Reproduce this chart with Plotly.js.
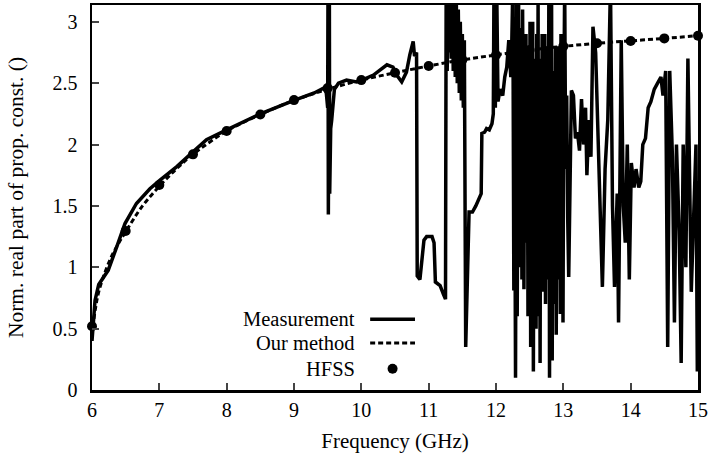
<!DOCTYPE html>
<html>
<head>
<meta charset="utf-8">
<script src="https://cdn.plot.ly/plotly-3.0.1.min.js"></script>
<style>html,body{margin:0;padding:0;background:#fff;}#chart{width:712px;height:457px;}</style>
</head>
<body>
<div id="chart"></div>
<script>
// ---- Data ----
// Measurement: smooth part + spike near 9.5 GHz
const measFreqA = [
  6.0, 6.045, 6.1, 6.17, 6.24, 6.37, 6.49, 6.66, 6.86, 7.01,
  7.26, 7.5, 7.7, 8.0, 8.2, 8.5, 9.0, 9.3, 9.44, 9.48,
  9.5, 9.505, 9.51, 9.515, 9.52, 9.525, 9.53, 9.535, 9.545, 9.56,
  9.6, 9.66, 9.78, 9.93, 10.01, 10.18, 10.38, 10.47, 10.52, 10.6,
  10.67, 10.72, 10.77, 10.79, 10.82
];
const measValA = [
  0.40, 0.73, 0.86, 0.92, 0.975, 1.17, 1.356, 1.52, 1.64, 1.71,
  1.82, 1.94, 2.04, 2.12, 2.17, 2.25, 2.36, 2.42, 2.46, 2.42,
  2.3, 3.3, 1.43, 3.3, 1.5, 3.3, 1.6, 2.0, 2.13, 2.2,
  2.45, 2.50, 2.525, 2.51, 2.525, 2.566, 2.65, 2.63, 2.57, 2.51,
  2.59, 2.73, 2.84, 2.72, 2.75
];
// Measurement: 10.8 - 12.2 GHz
const measFreqB = [
  10.83, 10.87, 10.93, 10.97, 11.05, 11.08, 11.1, 11.17, 11.22, 11.25,
  11.26, 11.275, 11.29, 11.305, 11.32, 11.335, 11.35, 11.365, 11.38, 11.395,
  11.41, 11.425, 11.44, 11.455, 11.47, 11.485, 11.5, 11.515, 11.53, 11.55,
  11.6, 11.65, 11.7, 11.75, 11.78, 11.79, 11.83, 11.86, 11.9, 11.94,
  11.96, 11.97, 11.99, 12.01, 12.03, 12.06, 12.1, 12.13, 12.16, 12.19
];
const measValB = [
  0.93, 0.90, 1.22, 1.25, 1.25, 1.2, 0.88, 0.85, 0.78, 0.74,
  3.3, 2.6, 3.3, 2.75, 3.3, 2.7, 3.3, 2.6, 3.3, 2.55,
  3.2, 2.5, 3.1, 2.42, 3.0, 2.36, 2.9, 2.3, 2.85, 0.35,
  1.45, 1.45, 1.5, 1.57, 1.6, 2.09, 2.1, 2.13, 2.12, 2.17,
  2.25, 3.3, 2.3, 3.3, 2.35, 2.45, 2.4, 2.55, 2.63, 2.85
];
// Measurement: 12.2 - 13.1 GHz (densest part)
const measFreqC = [
  12.22, 12.235, 12.25, 12.265, 12.275, 12.29, 12.305, 12.315, 12.325, 12.335,
  12.345, 12.355, 12.365, 12.375, 12.385, 12.395, 12.405, 12.415, 12.425, 12.435,
  12.445, 12.455, 12.465, 12.475, 12.485, 12.495, 12.505, 12.515, 12.525, 12.535,
  12.545, 12.555, 12.565, 12.575, 12.585, 12.595, 12.605, 12.615, 12.625, 12.635,
  12.645, 12.655, 12.665, 12.675, 12.685, 12.695, 12.705, 12.715, 12.725, 12.735,
  12.745, 12.755, 12.765, 12.775, 12.785, 12.795, 12.805, 12.815, 12.825, 12.835,
  12.845, 12.855, 12.865, 12.875, 12.885, 12.895, 12.905, 12.915, 12.925, 12.935,
  12.945, 12.955, 12.965, 12.975, 12.985, 12.995, 13.005, 13.02, 13.035, 13.05,
  13.065, 13.08
];
const measValC = [
  2.55, 2.85, 3.3, 0.81, 2.4, 0.1, 3.3, 0.6, 2.2, 3.3,
  1.0, 2.6, 1.6, 2.95, 0.9, 3.1, 1.9, 0.82, 2.8, 1.4,
  2.9, 1.2, 2.7, 0.6, 2.8, 1.0, 3.0, 0.35, 2.5, 1.5,
  3.0, 0.15, 2.2, 0.9, 2.7, 0.5, 2.9, 1.3, 3.15, 0.6,
  2.6, 0.22, 2.7, 1.1, 2.9, 0.8, 2.4, 1.6, 2.9, 0.7,
  2.5, 1.2, 2.8, 0.9, 3.3, 0.1, 2.6, 1.4, 3.3, 0.24,
  2.2, 0.7, 2.6, 1.3, 2.8, 0.45, 2.4, 1.5, 2.8, 0.9,
  2.7, 0.62, 2.9, 1.5, 2.7, 0.55, 2.2, 3.3, 1.8, 2.4,
  1.4, 0.92
];
// Measurement: 13.1 - 15 GHz
const measFreqD = [
  13.12, 13.15, 13.18, 13.21, 13.24, 13.27, 13.3, 13.33, 13.35, 13.38,
  13.41, 13.44, 13.48, 13.52, 13.58, 13.62, 13.66, 13.7, 13.73, 13.76,
  13.8, 13.82, 13.86, 13.89, 13.92, 13.95, 13.98, 14.01, 14.05, 14.08,
  14.12, 14.15, 14.18, 14.22, 14.26, 14.3, 14.35, 14.4, 14.45, 14.48,
  14.52, 14.55, 14.58, 14.62, 14.65, 14.68, 14.72, 14.75, 14.78, 14.82,
  14.85, 14.9, 14.94, 14.97, 14.99, 15.0
];
const measValD = [
  2.44, 2.4, 2.05, 2.1, 1.95, 2.37, 2.0, 2.3, 1.75, 2.2,
  1.9, 2.96, 2.75, 2.0, 0.84, 1.8, 2.2, 3.3, 1.5, 0.84,
  1.6, 0.55, 2.85, 1.5, 1.2, 2.0, 0.9, 1.85, 1.65, 1.8,
  1.65, 1.7, 2.0, 2.05, 2.3, 2.35, 2.45, 2.5, 2.55, 2.4,
  2.6, 0.35, 2.6, 1.9, 0.55, 2.0, 1.3, 0.22, 2.0, 1.0,
  2.7, 0.8, 1.5, 2.0, 0.15, 1.7
];
const methodFreq = [6.0, 6.05, 6.1, 6.2, 6.3, 6.4, 6.5, 6.75, 7.0, 7.25, 7.5, 8.0, 8.5, 9.0, 9.5, 10.0, 10.5, 11.0, 11.5, 12.0, 12.5, 13.0, 13.5, 14.0, 14.5, 15.0];
const methodVal  = [0.45, 0.66, 0.80, 0.97, 1.10, 1.20, 1.29, 1.50, 1.66, 1.80, 1.92, 2.11, 2.245, 2.36, 2.45, 2.525, 2.585, 2.64, 2.69, 2.73, 2.77, 2.80, 2.825, 2.845, 2.865, 2.887];
const hfssFreq = [6.0, 6.5, 7.0, 7.5, 8.0, 8.5, 9.0, 9.5, 10.0, 10.5, 11.0, 11.5, 12.0, 12.5, 13.0, 13.5, 14.0, 14.5, 15.0];
const hfssVal  = [0.52, 1.296, 1.67, 1.92, 2.11, 2.245, 2.362, 2.46, 2.525, 2.585, 2.64, 2.69, 2.73, 2.77, 2.80, 2.825, 2.843, 2.865, 2.887];
const xTickVals = [6, 7, 8, 9, 10, 11, 12, 13, 14, 15];
const yTickVals = [0, 0.5, 1, 1.5, 2, 2.5, 3];
const yTickText = ['0', '0.5', '1', '1.5', '2', '2.5', '3'];
const legendNames = ['Measurement', 'Our method', 'HFSS'];

const measFreq = measFreqA.concat(measFreqB, measFreqC, measFreqD);
const measVal = measValA.concat(measValB, measValC, measValD);

const FONT = 'Liberation Serif, Times New Roman, serif';

const traces = [
  {x: measFreq, y: measVal, type: 'scatter', mode: 'lines', name: legendNames[0],
   line: {color: '#000', width: 3.5}},
  {x: methodFreq, y: methodVal, type: 'scatter', mode: 'lines', name: legendNames[1],
   line: {color: '#000', width: 3, dash: '5px,3px', shape: 'spline'}},
  {x: hfssFreq, y: hfssVal, type: 'scatter', mode: 'markers', name: legendNames[2],
   marker: {color: '#000', size: 10}, cliponaxis: false}
];

// manual legend (text to the left of the samples, as in the reference)
const legY = [0.184, 0.122, 0.055];
const annotations = legendNames.map((t, i) => ({
  xref: 'paper', yref: 'paper', x: 0.437, y: legY[i], xanchor: 'right', yanchor: 'middle',
  text: t, showarrow: false, font: {family: FONT, size: 20.5, color: '#000'}
}));
const shapes = [
  {type: 'line', xref: 'paper', yref: 'paper', x0: 0.459, x1: 0.533, y0: legY[0], y1: legY[0],
   line: {color: '#000', width: 3.5}},
  {type: 'line', xref: 'paper', yref: 'paper', x0: 0.459, x1: 0.533, y0: legY[1], y1: legY[1],
   line: {color: '#000', width: 3, dash: '5px,3px'}},
  {type: 'circle', xref: 'paper', yref: 'paper', xsizemode: 'pixel', ysizemode: 'pixel',
   xanchor: 0.496, yanchor: legY[2], x0: -5, x1: 5, y0: -5, y1: 5,
   fillcolor: '#000', line: {color: '#000', width: 0}}
];

const layout = {
  width: 712, height: 457,
  margin: {l: 92, r: 14, t: 5, b: 67},
  paper_bgcolor: '#fff', plot_bgcolor: '#fff',
  showlegend: false,
  font: {family: FONT, size: 20, color: '#000'},
  xaxis: {
    range: [6, 15], tickvals: xTickVals, ticks: 'inside', ticklen: 7, tickwidth: 2,
    showline: true, mirror: true, linecolor: '#000', linewidth: 2.5, showgrid: false, zeroline: false,
    title: {text: 'Frequency (GHz)', font: {family: FONT, size: 21}, standoff: 14},
    tickfont: {family: FONT, size: 20}
  },
  yaxis: {
    range: [0, 3.137], tickvals: yTickVals, ticktext: yTickText, ticks: 'inside', ticklen: 7, tickwidth: 2,
    showline: true, mirror: true, linecolor: '#000', linewidth: 2.5, showgrid: false, zeroline: false,
    ticklabelstandoff: 8,
    title: {text: 'Norm. real part of prop. const. ()', font: {family: FONT, size: 21.5}, standoff: 23},
    tickfont: {family: FONT, size: 20}
  },
  annotations: annotations,
  shapes: shapes
};

Plotly.newPlot('chart', traces, layout, {displayModeBar: false, staticPlot: true});
</script>
</body>
</html>
